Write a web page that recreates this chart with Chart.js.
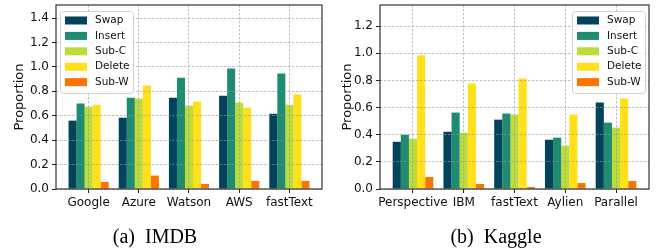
<!DOCTYPE html>
<html>
<head>
<meta charset="utf-8">
<script src="https://cdn.jsdelivr.net/npm/chart.js@4/dist/chart.umd.min.js"></script>
<style>
  body { margin: 0; background: #fff; width: 657px; height: 248px; position: relative; overflow: hidden; }
  .panel { position: absolute; top: 0; height: 248px; }
  .caption { position: absolute; top: 226px; font-family: 'Liberation Serif', 'Times New Roman', serif;
             font-size: 20px; line-height: 20px; color: #000; white-space: pre; transform: translateX(-50%); }
</style>
</head>
<body>
<div class="panel" style="left:0;width:330px"><canvas id="imdbChart" width="330" height="248"></canvas></div>
<div class="panel" style="left:330px;width:327px"><canvas id="kaggleChart" width="327" height="248"></canvas></div>
<div class="caption" style="left:155px">(a)  IMDB</div>
<div class="caption" style="left:496px">(b)  Kaggle</div>
<script>
// attack types (legend) and their colours
const attackNames = ['Swap', 'Insert', 'Sub-C', 'Delete', 'Sub-W'];
const attackColors = ['#00435b', '#1f8b70', '#bedc39', '#ffe01a', '#fd7400'];

// (a) IMDB
const imdbLabels = ['Google', 'Azure', 'Watson', 'AWS', 'fastText'];
const imdbSwap   = [0.56, 0.584, 0.748, 0.764, 0.616];
const imdbInsert = [0.70, 0.748, 0.912, 0.986, 0.945];
const imdbSubC   = [0.674, 0.74, 0.682, 0.707, 0.69];
const imdbDelete = [0.69, 0.847, 0.715, 0.666, 0.773];
const imdbSubW   = [0.058, 0.11, 0.041, 0.066, 0.066];
const imdbTicks  = [0, 0.2, 0.4, 0.6, 0.8, 1.0, 1.2, 1.4];

// (b) Kaggle
const kaggleLabels = ['Perspective', 'IBM', 'fastText', 'Aylien', 'Parallel'];
const kaggleSwap   = [0.348, 0.422, 0.511, 0.363, 0.637];
const kaggleInsert = [0.40, 0.563, 0.556, 0.378, 0.489];
const kaggleSubC   = [0.37, 0.415, 0.548, 0.319, 0.452];
const kaggleDelete = [0.985, 0.778, 0.815, 0.548, 0.667];
const kaggleSubW   = [0.089, 0.037, 0.015, 0.044, 0.059];
const kaggleTicks  = [0, 0.2, 0.4, 0.6, 0.8, 1.0, 1.2];

Chart.defaults.font.family = "'DejaVu Sans', sans-serif";
Chart.defaults.color = '#111';

// matplotlib-like legend box inside the axes + black frame
const boxLegend = {
    id: 'boxLegend',
    afterDraw(chart, args, opts) {
        const ctx = chart.ctx;
        const area = chart.chartArea;
        const w = 73, h = 82;
        const x = opts.corner === 'right' ? area.right - 4 - w : area.left + 4;
        const y = area.top + 6;
        ctx.save();
        ctx.beginPath();
        ctx.roundRect(x + 0.5, y + 0.5, w, h, 3);
        ctx.fillStyle = 'rgba(255,255,255,0.85)';
        ctx.fill();
        ctx.strokeStyle = '#d0d0d0';
        ctx.lineWidth = 1;
        ctx.stroke();
        ctx.font = "10.5px 'DejaVu Sans'";
        ctx.textBaseline = 'middle';
        chart.data.datasets.forEach((ds, i) => {
            const cy = y + 9.5 + i * 15.4;
            ctx.fillStyle = ds.backgroundColor;
            ctx.fillRect(x + 5, cy - 4, 22, 8);
            ctx.fillStyle = '#111';
            ctx.fillText(ds.label, x + 35, cy);
        });
        // frame
        ctx.strokeStyle = '#222';
        ctx.lineWidth = 1.1;
        ctx.strokeRect(area.left, area.top, area.right - area.left, area.bottom - area.top);
        ctx.restore();
    }
};

function makeChart(id, labels, series, ticks, yMax, yAxisWidth, titlePad, corner) {
    const datasets = attackNames.map((name, k) => ({
        label: name,
        data: series[k].map((v, i) => ({ x: i, y: v })),
        backgroundColor: attackColors[k],
        borderWidth: 0,
        barPercentage: 1.0,
        categoryPercentage: 0.8
    }));
    return new Chart(document.getElementById(id), {
        type: 'bar',
        data: { datasets: datasets },
        plugins: [boxLegend],
        options: {
            responsive: false,
            devicePixelRatio: 1,
            animation: false,
            layout: { padding: { left: 0, right: 8, top: 5, bottom: 0 } },
            plugins: {
                legend: { display: false },
                tooltip: { enabled: false },
                boxLegend: { corner: corner }
            },
            scales: {
                x: {
                    type: 'linear',
                    min: -0.65,
                    max: 4.65,
                    offset: false,
                    afterBuildTicks: s => { s.ticks = labels.map((l, i) => ({ value: i })); },
                    afterFit: s => { s.height = 59; s.paddingLeft = 0; s.paddingRight = 0; },
                    ticks: { font: { size: 12 }, padding: 3, maxRotation: 0, autoSkip: false,
                             callback: v => labels[v] },
                    grid: { color: 'rgba(150,150,150,0.6)', lineWidth: 1, offset: false, z: 1,
                            tickLength: 4, tickColor: '#222', tickBorderDash: [] },
                    border: { display: false, dash: [2.5, 1.5] }
                },
                y: {
                    min: 0,
                    max: yMax,
                    afterBuildTicks: s => { s.ticks = ticks.map(v => ({ value: v })); },
                    afterFit: s => { s.width = yAxisWidth; s.paddingTop = 0; s.paddingBottom = 0; },
                    ticks: { font: { size: 12 }, padding: 3, callback: v => v.toFixed(1) },
                    title: { display: true, text: 'Proportion', font: { size: 13 }, padding: { top: titlePad, bottom: 0 } },
                    grid: { color: 'rgba(150,150,150,0.6)', lineWidth: 1, z: 1,
                            tickLength: 4, tickColor: '#222', tickBorderDash: [] },
                    border: { display: false, dash: [2.5, 1.5] }
                }
            }
        }
    });
}

makeChart('imdbChart', imdbLabels,
    [imdbSwap, imdbInsert, imdbSubC, imdbDelete, imdbSubW], imdbTicks, 1.507, 56, 12, 'left');
makeChart('kaggleChart', kaggleLabels,
    [kaggleSwap, kaggleInsert, kaggleSubC, kaggleDelete, kaggleSubW], kaggleTicks, 1.356, 50, 9.7, 'right');
</script>
</body>
</html>
